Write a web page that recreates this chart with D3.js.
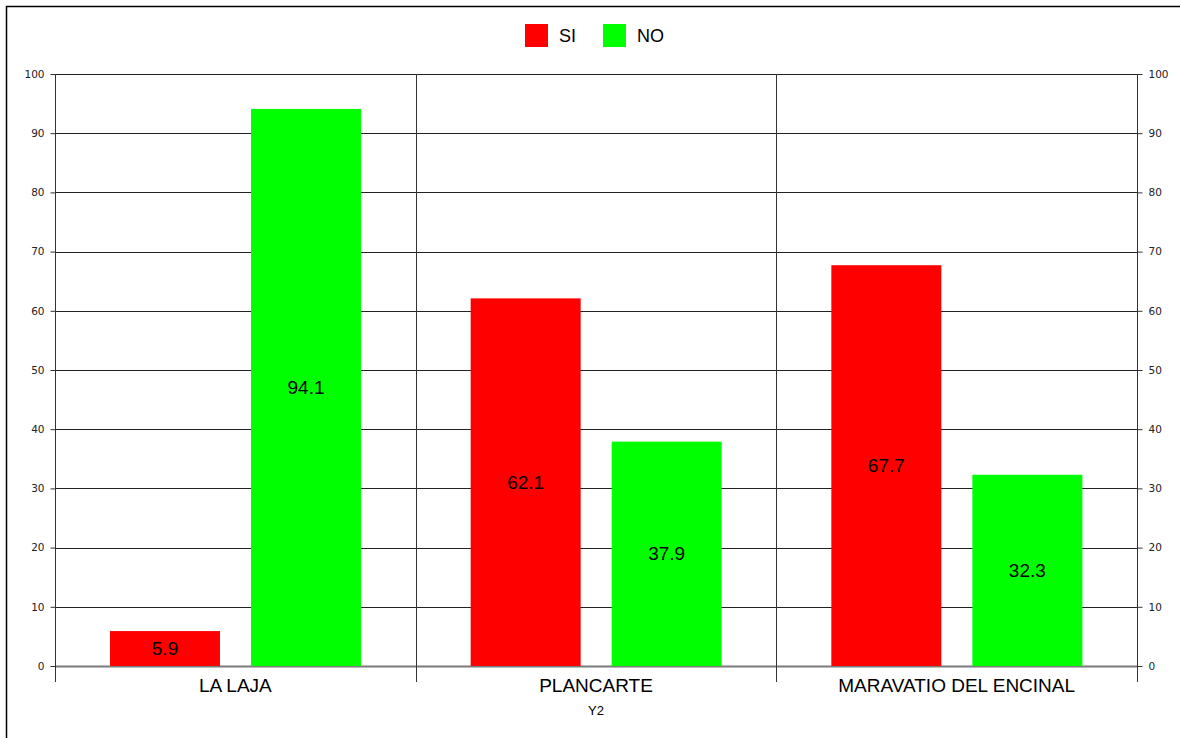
<!DOCTYPE html>
<html>
<head>
<meta charset="utf-8">
<script src="https://cdn.jsdelivr.net/npm/d3@7"></script>
<style>
  html, body { margin: 0; padding: 0; background: #fff; }
  svg { display: block; font-family: "Liberation Sans", Arial, sans-serif; }
</style>
</head>
<body>
<svg id="chart" width="1180" height="738"></svg>
<script>
// Categories, series and tick values
const categories = ["LA LAJA", "PLANCARTE", "MARAVATIO DEL ENCINAL"];
const seriesNames = ["SI", "NO"];
const seriesColors = ["#ff0000", "#00ff00"];
const siValues = [5.9, 62.1, 67.7];
const noValues = [94.1, 37.9, 32.3];
const yTicks = [0, 10, 20, 30, 40, 50, 60, 70, 80, 90, 100];
const xAxisTitle = "Y2";

const svg = d3.select("#chart");
const W = 1180, H = 738;
const plot = { left: 55, right: 1137, top: 74, bottom: 666 };

// Outer frame (only top and left edges fall inside the page)
svg.append("rect")
  .attr("x", 6.5).attr("y", 6.5)
  .attr("width", W + 20).attr("height", H + 20)
  .attr("fill", "#fff").attr("stroke", "#000").attr("stroke-width", 1.5);

const x0 = d3.scaleBand().domain(categories).range([plot.left, plot.right]).paddingInner(0).paddingOuter(0);
const bw = x0.bandwidth();
const x1 = d3.scaleBand().domain(seriesNames)
  .range([bw * 0.1525, bw * 0.8485]).paddingInner(0.22).paddingOuter(0);
const y = d3.scaleLinear().domain([0, 100]).range([plot.bottom, plot.top]);

// Horizontal gridlines
svg.append("g").selectAll("line").data(yTicks).join("line")
  .attr("x1", plot.left).attr("x2", plot.right)
  .attr("y1", d => Math.round(y(d)) + 0.5).attr("y2", d => Math.round(y(d)) + 0.5)
  .attr("stroke", d => d === 0 ? "#7a7a7a" : "#222")
  .attr("stroke-width", d => d === 0 ? 2 : 1);

// Category separators
const seps = [plot.left, ...categories.map(c => x0(c) + x0.bandwidth())];
svg.append("g").selectAll("line").data(seps).join("line")
  .attr("x1", d => Math.round(d) + 0.5).attr("x2", d => Math.round(d) + 0.5)
  .attr("y1", plot.top).attr("y2", plot.bottom + 16)
  .attr("stroke", "#333").attr("stroke-width", 1);

// Left and right value axes
const axisL = d3.axisLeft(y).tickValues(yTicks).tickSize(5).tickPadding(6);
const axisR = d3.axisRight(y).tickValues(yTicks).tickSize(5).tickPadding(6);
const gL = svg.append("g").attr("transform", `translate(${plot.left + 0.5},0)`).call(axisL);
const gR = svg.append("g").attr("transform", `translate(${plot.right + 0.5},0)`).call(axisR);
[gL, gR].forEach(g => {
  g.select(".domain").attr("stroke", "#333").attr("d", `M0,${plot.top}V${plot.bottom + 16}`);
  g.selectAll(".tick line").attr("stroke", "#333");
  g.selectAll(".tick text").attr("fill", "#222")
    .style("font-family", "'DejaVu Sans', sans-serif").style("font-size", "10.5px");
});

// Bars
const rows = categories.map((c, i) => ({ cat: c, vals: [siValues[i], noValues[i]] }));
const groups = svg.append("g").selectAll("g").data(rows).join("g")
  .attr("transform", d => `translate(${x0(d.cat)},0)`);

groups.selectAll("rect").data(d => d.vals.map((v, j) => ({ s: seriesNames[j], v, j })))
  .join("rect")
  .attr("x", d => x1(d.s))
  .attr("width", x1.bandwidth())
  .attr("y", d => y(d.v))
  .attr("height", d => y(0) - y(d.v))
  .attr("fill", d => seriesColors[d.j]);

// Value labels centred in each bar
groups.selectAll("text").data(d => d.vals.map((v, j) => ({ s: seriesNames[j], v, j })))
  .join("text")
  .attr("x", d => x1(d.s) + x1.bandwidth() / 2)
  .attr("y", d => (y(d.v) + y(0)) / 2)
  .attr("text-anchor", "middle").attr("dominant-baseline", "central")
  .style("font-size", "19px").attr("fill", "#000")
  .text(d => d.v.toFixed(1));

// Category labels
svg.append("g").selectAll("text").data(categories).join("text")
  .attr("x", d => x0(d) + x0.bandwidth() / 2)
  .attr("y", 692)
  .attr("text-anchor", "middle")
  .style("font-size", "19px").attr("fill", "#000")
  .text(d => d);

// Axis title
svg.append("text")
  .attr("x", (plot.left + plot.right) / 2).attr("y", 715)
  .attr("text-anchor", "middle")
  .style("font-size", "13px").attr("fill", "#000")
  .text(xAxisTitle);

// Legend
const legend = svg.append("g");
const legendX = [525, 603];
seriesNames.forEach((name, i) => {
  legend.append("rect")
    .attr("x", legendX[i]).attr("y", 24).attr("width", 23).attr("height", 23)
    .attr("fill", seriesColors[i]);
  legend.append("text")
    .attr("x", legendX[i] + 34).attr("y", 36)
    .attr("dominant-baseline", "central")
    .style("font-size", "18px").attr("fill", "#000")
    .text(name);
});
</script>
</body>
</html>
